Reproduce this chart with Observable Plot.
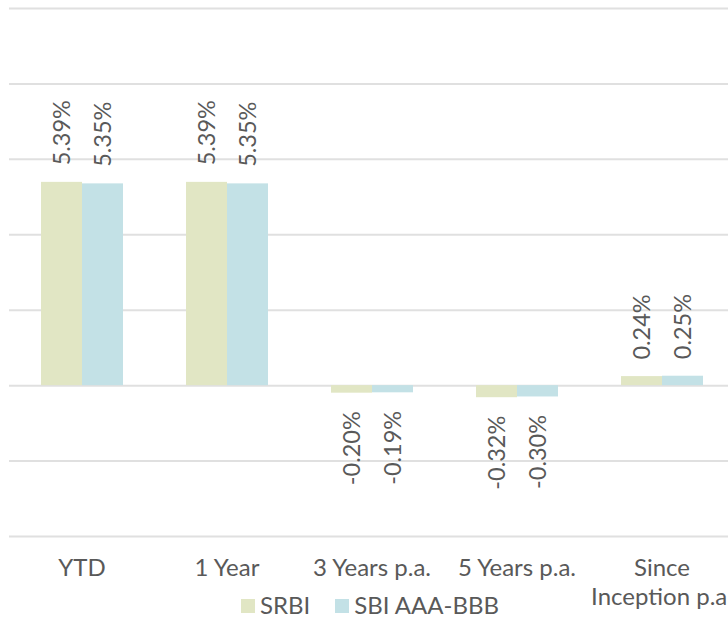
<!DOCTYPE html>
<html>
<head>
<meta charset="utf-8">
<script src="https://cdn.jsdelivr.net/npm/d3@7"></script>
<script src="https://cdn.jsdelivr.net/npm/@observablehq/plot@0.6"></script>
<style>
  html, body { margin: 0; padding: 0; background: #fff; overflow: hidden; width: 728px; height: 618px; }
  #wrap { position: relative; width: 728px; height: 618px; overflow: hidden; font-family: Lato, sans-serif; }
  #chart svg { max-width: none !important; }
  #legend { position: absolute; left: 0; top: 592px; width: 740px; display: flex; justify-content: center; gap: 25px; font-size: 24px; line-height: 25px; color: #595959; font-family: Lato, sans-serif; font-weight: 400; }
  .item { display: flex; align-items: center; gap: 5px; }
  .sw { width: 14px; height: 14px; display: inline-block; margin-top: 3px; }
</style>
</head>
<body>
<div id="wrap"><div id="chart"></div><div id="legend"></div></div>
<script>
const categories = ["YTD", "1 Year", "3 Years p.a.", "5 Years p.a.", "Since Inception p.a."];
const categoryLines = [["YTD"], ["1 Year"], ["3 Years p.a."], ["5 Years p.a."], ["Since", "Inception p.a."]];
const seriesNames = ["SRBI", "SBI AAA-BBB"];
const srbi = [5.39, 5.39, -0.20, -0.32, 0.24];
const sbi = [5.35, 5.35, -0.19, -0.30, 0.25];
const colors = ["#e1e6c4", "#c3e1e6"];
const yTicks = [-4, -2, 0, 2, 4, 6, 8, 10];

const data = [];
categories.forEach((c, i) => {
  data.push({category: c, series: seriesNames[0], value: srbi[i]});
  data.push({category: c, series: seriesNames[1], value: sbi[i]});
});
const labels = categories.map((c, i) => ({category: c, text: categoryLines[i].join("\n")}));

const fmt = v => v.toFixed(2) + "%";

const chart = Plot.plot({
  width: 734,
  height: 618,
  marginLeft: 9,
  marginRight: 0,
  marginTop: 8,
  marginBottom: 82,
  style: {fontFamily: "Lato, sans-serif", background: "#fff", maxWidth: "none", fontWeight: 400},
  fx: {domain: categories, padding: 0, axis: null},
  x: {domain: seriesNames, axis: null, paddingInner: 0, paddingOuter: 0.747},
  y: {domain: [-4, 10], axis: null},
  color: {domain: seriesNames, range: colors},
  marks: [
    Plot.ruleY(yTicks, {stroke: "#e0e0e0", strokeWidth: 2, facet: "exclude"}),
    Plot.barY(data, {fx: "category", x: "series", y: "value", fill: "series", inset: 0}),
    Plot.text(data.filter(d => d.value >= 0), {fx: "category", x: "series", y: "value", text: d => fmt(d.value),
      rotate: -90, textAnchor: "start", dy: -17, fontSize: 23.5, fill: "#595959"}),
    Plot.text(data.filter(d => d.value < 0), {fx: "category", x: "series", y: "value", text: d => fmt(d.value),
      rotate: -90, textAnchor: "end", dy: 18, fontSize: 23.5, fill: "#595959"}),
    Plot.text(labels, {fx: "category", text: "text", frameAnchor: "bottom", lineAnchor: "top", dy: 19, fontSize: 24, lineHeight: 1.2, fill: "#595959"})
  ]
});
document.getElementById("chart").appendChild(chart);

const legend = document.getElementById("legend");
seriesNames.forEach((s, i) => {
  const it = document.createElement("div");
  it.className = "item";
  const sw = document.createElement("span");
  sw.className = "sw";
  sw.style.background = colors[i];
  const t = document.createElement("span");
  t.textContent = s;
  it.appendChild(sw); it.appendChild(t);
  legend.appendChild(it);
});
</script>
</body>
</html>
